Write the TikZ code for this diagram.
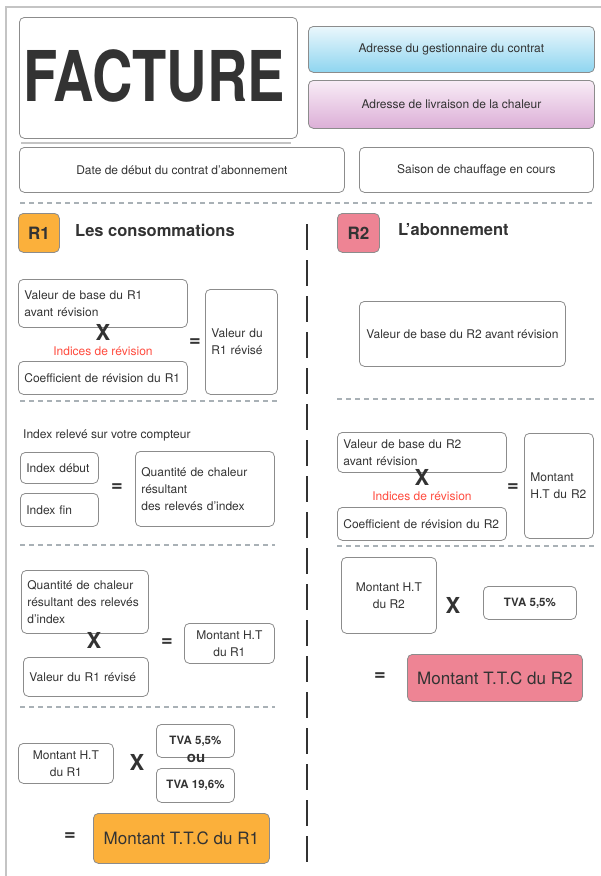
\documentclass[tikz,border=0pt]{standalone}
\usepackage{fontspec}
\setmainfont{TeX Gyre Heros}
\definecolor{txtgray}{HTML}{333333}
\definecolor{boxgray}{HTML}{8C8C8C}
\definecolor{sepgray}{HTML}{A9B1B6}
\definecolor{framegray}{HTML}{C4C4C4}
\definecolor{rouge}{HTML}{FF4B3E}
\definecolor{orangeR}{HTML}{FBB03B}
\definecolor{roseR}{HTML}{EE8494}
\definecolor{bleuhaut}{HTML}{EAF7FC}
\definecolor{bleubas}{HTML}{8ED5F0}
\definecolor{rosehaut}{HTML}{F8ECF6}
\definecolor{rosebas}{HTML}{DCAFD7}
\begin{document}
\begin{tikzpicture}[x=1pt,y=-1pt,
	box/.style={draw=boxgray,line width=0.8pt,rounded corners=5pt,anchor=north west,
	  inner xsep=6pt,inner ysep=0pt,text=txtgray,font=\fontsize{12}{17}\selectfont,align=center},
	lbox/.style={box,align=left},
	tva/.style={box,font=\bfseries\fontsize{11.5}{14}\selectfont},
	badge/.style={box,font=\bfseries\fontsize{17}{18}\selectfont},
	titre/.style={anchor=west,text=txtgray,inner sep=0pt,font=\bfseries\fontsize{16.5}{18}\selectfont},
	fois/.style={text=txtgray,inner sep=0pt,font=\bfseries\fontsize{22}{22}\selectfont},
	egal/.style={text=txtgray,inner sep=0pt,font=\bfseries\fontsize{20}{20}\selectfont},
	indice/.style={text=rouge,inner sep=0pt,font=\fontsize{12}{14}\selectfont},
	sepline/.style={sepgray,line width=1.2pt,dash pattern=on 5pt off 4pt}]
	\useasboundingbox (0,0) rectangle (601,876);
	% cadre
	\draw[framegray,line width=1.5pt] (601,7) -- (6,7) -- (6,876);
	% en-tete
	\node[box,minimum width=278pt,minimum height=121pt] (facture) at (19,17) {};
	\node[text=txtgray,inner sep=0pt,font=\bfseries\fontsize{70}{70}\selectfont]
	  (facturetxt) at (154,76) {\scalebox{0.8}[1]{FACTURE}};
	\draw[framegray,line width=1.5pt] (21,143) -- (291,143);
	\node[box,top color=bleuhaut,bottom color=bleubas,minimum width=286pt,minimum height=46pt]
	  (gestion) at (308,26) {Adresse du gestionnaire du contrat};
	\node[box,top color=rosehaut,bottom color=rosebas,minimum width=286pt,minimum height=48pt]
	  (livraison) at (308,80) {Adresse de livraison de la chaleur};
	\node[box,minimum width=325pt,minimum height=45pt] (date) at (19,147)
	  {Date de début du contrat d'abonnement};
	\node[box,minimum width=234pt,minimum height=45pt] (saison) at (359,147)
	  {Saison de chauffage en cours};
	\draw[sepline] (20,203) -- (594,203);
	\draw[txtgray,line width=1.3pt,dash pattern=on 26pt off 10pt] (307,224) -- (307,872);

	% R1 : les consommations
	\node[badge,fill=orangeR,minimum width=41pt,minimum height=39pt] (r1) at (18,213) {R1};
	\node[titre] (titre1) at (75,230) {Les consommations};
	\node[lbox,text width=157pt,minimum height=48pt] (base1) at (18,279)
	  {Valeur de base du R1\\avant révision};
	\node[fois] (fois1) at (103,332) {X};
	\node[indice] (indice1) at (103,351) {Indices de révision};
	\node[lbox,text width=157pt,minimum height=33pt] (coef1) at (18,361)
	  {Coefficient de révision du R1};
	\node[egal] (egal1) at (195,343) {=};
	\node[lbox,text width=60pt,minimum height=105pt] (revise1) at (205,289)
	  {Valeur du\\R1 révisé};
	\draw[sepline] (20,401) -- (278,401);
	\node[anchor=west,inner sep=0pt,text=txtgray,font=\fontsize{12}{14}\selectfont]
	  (releve) at (23,435) {Index relevé sur votre compteur};
	\node[lbox,text width=66pt,minimum height=31pt] (debut) at (20,452) {Index début};
	\node[lbox,text width=66pt,minimum height=33pt] (fin) at (20,493) {Index fin};
	\node[egal] (egal2) at (117,488) {=};
	\node[lbox,text width=127pt,minimum height=75pt] (quantite) at (135,451)
	  {Quantité de chaleur\\résultant\\des relevés d'index};
	\draw[sepline] (20,545) -- (275,545);
	\node[lbox,text width=115pt,minimum height=63pt] (quantite2) at (21,570)
	  {Quantité de chaleur\\résultant des relevés\\d'index};
	\node[fois] (fois2) at (94,640) {X};
	\node[lbox,text width=113pt,minimum height=39pt] (revise2) at (23,657)
	  {Valeur du R1 révisé};
	\node[egal] (egal3) at (167,643) {=};
	\node[box,minimum width=90pt,minimum height=40pt] (ht1) at (184,623)
	  {Montant H.T\\du R1};
	\draw[sepline] (20,707) -- (275,707);
	\node[box,minimum width=95pt,minimum height=40pt] (ht1b) at (18,743)
	  {Montant H.T\\du R1};
	\node[fois] (fois3) at (137,762) {X};
	\node[tva,minimum width=78pt,minimum height=33pt] (tva1) at (156,724) {TVA 5,5\%};
	\node[tva,minimum width=78pt,minimum height=34pt] (tva2) at (156,768) {TVA 19,6\%};
	\node[text=txtgray,inner sep=0pt,font=\bfseries\fontsize{15}{15}\selectfont]
	  (ou) at (196,758) {ou};
	\node[egal] (egal4) at (70,837) {=};
	\node[box,fill=orangeR,minimum width=176pt,minimum height=50pt,
	  font=\fontsize{17}{20}\selectfont] (ttc1) at (93,813) {Montant T.T.C du R1};

	% R2 : l'abonnement
	\node[badge,fill=roseR,minimum width=42pt,minimum height=39pt] (r2) at (337,213) {R2};
	\node[titre] (titre2) at (398,230) {L'abonnement};
	\node[box,minimum width=206pt,minimum height=65pt] (base2a) at (359,301)
	  {Valeur de base du R2 avant révision};
	\draw[sepline] (337,399) -- (594,399);
	\node[lbox,text width=157pt,minimum height=40pt] (base2) at (337,432)
	  {Valeur de base du R2\\avant révision};
	\node[fois] (fois4) at (422,477) {X};
	\node[indice] (indice2) at (422,496) {Indices de révision};
	\node[lbox,text width=157pt,minimum height=33pt] (coef2) at (337,507)
	  {Coefficient de révision du R2};
	\node[egal] (egal5) at (513,488) {=};
	\node[lbox,text width=57pt,minimum height=105pt] (ht2) at (524,433)
	  {Montant\\H.T du R2};
	\draw[sepline] (337,546) -- (594,546);
	\node[box,minimum width=95pt,minimum height=76pt] (ht2b) at (341,557)
	  {Montant H.T\\du R2};
	\node[fois] (fois5) at (453,605) {X};
	\node[tva,minimum width=93pt,minimum height=33pt] (tva3) at (483,586) {TVA 5,5\%};
	\node[egal] (egal6) at (380,677) {=};
	\node[box,fill=roseR,minimum width=175pt,minimum height=47pt,
	  font=\fontsize{17}{20}\selectfont] (ttc2) at (407,654) {Montant T.T.C du R2};
\end{tikzpicture}
\end{document}
